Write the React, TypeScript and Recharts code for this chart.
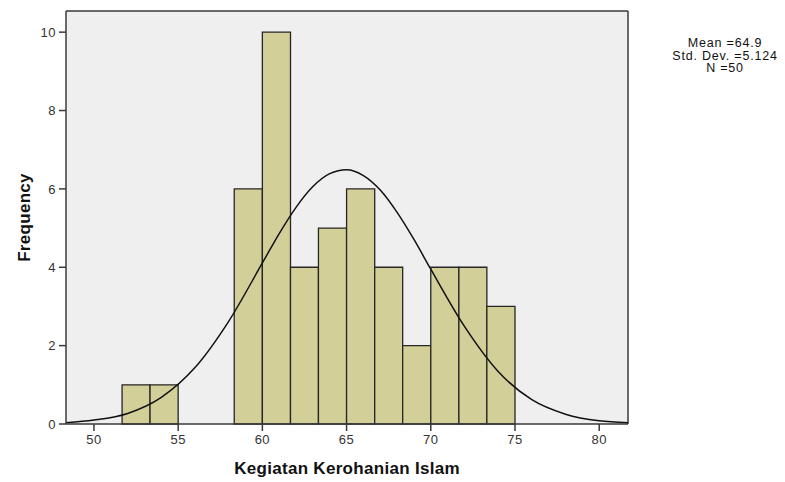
import { ComposedChart, Line, XAxis, YAxis, ReferenceArea, ReferenceLine, CartesianGrid, Label } from 'recharts';

// histogram bins (bin width 5/3)
const binStarts = [51.67, 53.33, 58.33, 60, 61.67, 63.33, 65, 66.67, 68.33, 70, 71.67, 73.33];
const binEnds = [53.33, 55, 60, 61.67, 63.33, 65, 66.67, 68.33, 70, 71.67, 73.33, 75];
const counts = [1, 1, 6, 10, 4, 5, 6, 4, 2, 4, 4, 3];

// normal curve
const curveX = [48.34, 50, 52, 54, 56, 58, 60, 61, 62, 63, 64, 65, 66, 67, 68, 69, 70, 72, 74, 76, 78, 80, 81.71];
const curveY = [0.03, 0.1, 0.27, 0.68, 1.44, 2.62, 4.11, 4.86, 5.53, 6.06, 6.39, 6.49, 6.34, 5.97, 5.4, 4.71, 3.95, 2.49, 1.34, 0.62, 0.25, 0.08, 0.03];

const xTicks = [50, 55, 60, 65, 70, 75, 80];
const yTicks = [0, 2, 4, 6, 8, 10];
const statLines = ['Mean =64.9', 'Std. Dev. =5.124', 'N =50'];

const X_DOMAIN: [number, number] = [48.34, 81.71];
const Y_DOMAIN: [number, number] = [0, 10.54];

const FONT = '"Liberation Sans", Arial, sans-serif';
const AXIS = '#3a3a3a';

const curve = curveX.map((x, i) => ({ x, y: curveY[i] }));

const tickStyle = { fontSize: 13, fill: '#333', fontFamily: FONT, letterSpacing: 0.5 };

export default function App() {
  return (
    <div style={{ position: 'absolute', left: 0, top: 0, width: 785, height: 482, background: '#fff' }}>
      <ComposedChart
        width={785}
        height={482}
        data={curve}
        margin={{ top: 11, right: 157, bottom: 0, left: 0 }}
      >
        <CartesianGrid fill="#efefef" horizontal={false} vertical={false} />
        <XAxis
          dataKey="x"
          type="number"
          domain={X_DOMAIN}
          ticks={xTicks}
          allowDataOverflow
          height={58}
          tickSize={7}
          tickMargin={4}
          tick={tickStyle}
          axisLine={{ stroke: AXIS, strokeWidth: 1.5 }}
          tickLine={{ stroke: AXIS, strokeWidth: 1.5 }}
        >
          <Label
            value="Kegiatan Kerohanian Islam"
            position="insideBottom"
            offset={8}
            style={{ fontSize: 17, fontWeight: 'bold', fill: '#111', fontFamily: FONT, letterSpacing: 0.3 }}
          />
        </XAxis>
        <YAxis
          type="number"
          domain={Y_DOMAIN}
          ticks={yTicks}
          allowDataOverflow
          width={66}
          tickSize={7}
          tickMargin={3}
          tick={tickStyle}
          axisLine={{ stroke: AXIS, strokeWidth: 1.5 }}
          tickLine={{ stroke: AXIS, strokeWidth: 1.5 }}
        >
          <Label
            content={({ viewBox }: any) => {
              const cx = 24;
              const cy = viewBox.y + viewBox.height / 2;
              return (
                <text
                  x={cx}
                  y={cy}
                  transform={`rotate(-90 ${cx} ${cy})`}
                  textAnchor="middle"
                  dominantBaseline="central"
                  style={{ fontSize: 17, fontWeight: 'bold', fill: '#111', fontFamily: FONT, letterSpacing: 0.3 }}
                >
                  Frequency
                </text>
              );
            }}
          />
        </YAxis>
        {/* frame: top and right edges of the plot box */}
        <ReferenceLine y={Y_DOMAIN[1]} stroke={AXIS} strokeWidth={1.5} ifOverflow="visible" />
        <ReferenceLine x={X_DOMAIN[1]} stroke={AXIS} strokeWidth={1.5} ifOverflow="visible" />
        {counts.map((c, i) => (
          <ReferenceArea
            key={i}
            x1={binStarts[i]}
            x2={binEnds[i]}
            y1={0}
            y2={c}
            fill="#d3cf98"
            fillOpacity={1}
            stroke="#262626"
            strokeWidth={1.3}
            ifOverflow="visible"
          />
        ))}
        <Line
          dataKey="y"
          type="monotone"
          dot={false}
          activeDot={false}
          stroke="#111"
          strokeWidth={1.5}
          isAnimationActive={false}
        />
      </ComposedChart>
      <div
        style={{
          position: 'absolute',
          left: 665,
          top: 37,
          width: 120,
          textAlign: 'center',
          fontFamily: FONT,
          fontSize: 12.5,
          lineHeight: '12.5px',
          letterSpacing: 0.8,
          color: '#111',
        }}
      >
        {statLines.map((s) => (
          <div key={s}>{s}</div>
        ))}
      </div>
    </div>
  );
}
